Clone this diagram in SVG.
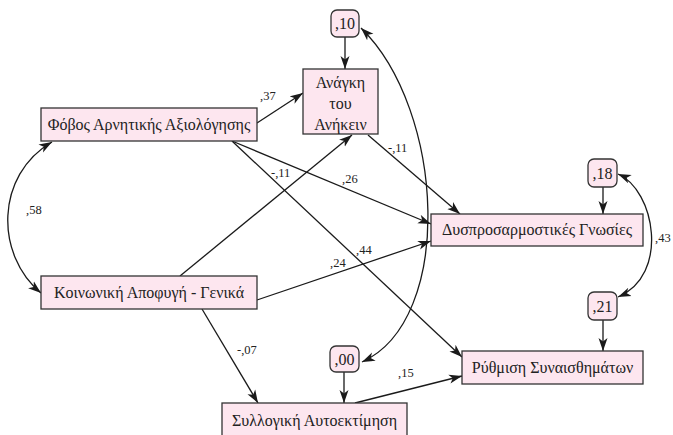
<svg xmlns="http://www.w3.org/2000/svg" width="673" height="435" viewBox="0 0 673 435">
<style>
.box{fill:#fde6ef;stroke:#333;stroke-width:1.3}
.t{font-family:"Liberation Serif","Times New Roman","DejaVu Serif",serif;font-size:16px;fill:#222;text-anchor:middle}
.l{font-family:"Liberation Serif","Times New Roman","DejaVu Serif",serif;font-size:12.5px;fill:#222}
.e{fill:none;stroke:#1a1a1a;stroke-width:1.3}
.a{marker-end:url(#ah)}
.d{marker-end:url(#ah);marker-start:url(#ah)}
</style>
<defs>
<marker id="ah" markerUnits="userSpaceOnUse" markerWidth="14" markerHeight="10" refX="13" refY="5" orient="auto-start-reverse">
<path d="M0,0.5 L13,5 L0,9.5 L3.5,5 Z" fill="#1a1a1a"/>
</marker>
</defs>
<g id="connectors">
<path class="e a" d="M257,123 L303,93"/>
<path class="e a" d="M345,37 L345,69"/>
<path class="e a" d="M180,276 L352,135"/>
<path class="e a" d="M368,135 L460,214"/>
<path class="e a" d="M232,141 L431,224"/>
<path class="e a" d="M232,141 L462,357"/>
<path class="e a" d="M257,300 L431,241"/>
<path class="e a" d="M202,309 L258,403"/>
<path class="e a" d="M344,372 L344,403"/>
<path class="e a" d="M355,403 L462,376"/>
<path class="e a" d="M603,187 L603,214"/>
<path class="e a" d="M603,320 L603,351"/>
<path class="e d" d="M52,142 C-5,175 -5,255 41,293"/>
<path class="e d" d="M361,28 C445,110 455,320 362,362"/>
<path class="e d" d="M618,174 C655,190 670,275 618,297"/>
<text class="l" x="260" y="100">,37</text>
<text class="l" x="388" y="152">-,11</text>
<text class="l" x="271" y="177">-,11</text>
<text class="l" x="342" y="183">,26</text>
<text class="l" x="356" y="254">,44</text>
<text class="l" x="330" y="267">,24</text>
<text class="l" x="237" y="354">-,07</text>
<text class="l" x="398" y="377">,15</text>
<text class="l" x="26" y="214">,58</text>
<text class="l" x="655" y="242">,43</text>
</g>
<g id="fobos"><rect class="box" x="41" y="108" width="216" height="33"/><text class="t" x="149" y="130">Φόβος Αρνητικής Αξιολόγησης</text></g>
<g id="anagki"><rect class="box" x="303" y="69" width="75" height="65"/><text class="t" x="340.5" y="88">Ανάγκη</text><text class="t" x="340.5" y="109">του</text><text class="t" x="340.5" y="130">Ανήκειν</text></g>
<g id="e10"><rect class="box" x="331" y="10" width="28" height="27" rx="6"/><text class="t" x="345" y="29">,10</text></g>
<g id="e18"><rect class="box" x="588" y="159" width="29" height="28" rx="6"/><text class="t" x="602.5" y="179">,18</text></g>
<g id="dys"><rect class="box" x="431" y="214" width="212" height="32"/><text class="t" x="537" y="235">Δυσπροσαρμοστικές Γνωσίες</text></g>
<g id="koin"><rect class="box" x="41" y="276" width="216" height="33"/><text class="t" x="149" y="298">Κοινωνική Αποφυγή - Γενικά</text></g>
<g id="e21"><rect class="box" x="588" y="292" width="29" height="28" rx="6"/><text class="t" x="602.5" y="312">,21</text></g>
<g id="e00"><rect class="box" x="330" y="346" width="29" height="26" rx="6"/><text class="t" x="344.5" y="365">,00</text></g>
<g id="rythmisi"><rect class="box" x="462" y="351" width="181" height="33"/><text class="t" x="552.5" y="373">Ρύθμιση Συναισθημάτων</text></g>
<g id="syll"><rect class="box" x="222" y="403" width="185" height="40"/><text class="t" x="314.5" y="426">Συλλογική Αυτοεκτίμηση</text></g>
</svg>
